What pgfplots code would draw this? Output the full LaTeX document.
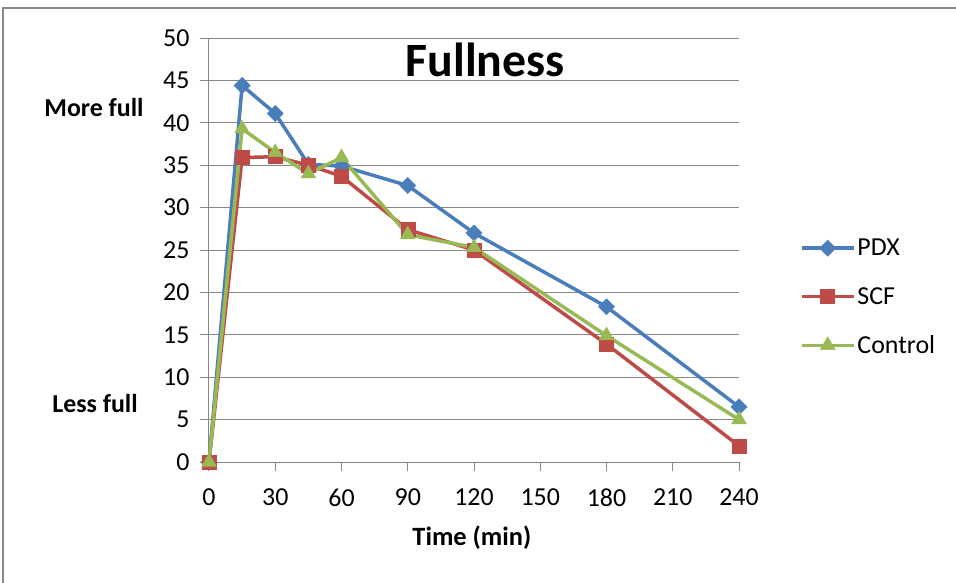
\documentclass[border=0pt]{standalone}
\usepackage{pgfplots}
\pgfplotsset{compat=1.18}
\usepackage{fontspec}
\setmainfont{Carlito}
\definecolor{pdx}{HTML}{4A7EBB}
\definecolor{scf}{HTML}{BE4B48}
\definecolor{ctl}{HTML}{98B954}
\definecolor{axgray}{HTML}{868686}
\begin{document}
\begin{tikzpicture}
\useasboundingbox (-209bp,-121bp) rectangle (747bp,462bp);
\draw[axgray, line width=2bp] (-206bp,-130bp) -- (-206bp,454bp) -- (760bp,454bp);
\begin{axis}[
  scale only axis, width=530bp, height=424bp,
  xmin=0, xmax=240, ymin=0, ymax=50,
  axis x line=bottom, axis y line=left,
  axis line style={axgray, line width=1bp, -},
  xtick={0,30,...,240}, ytick={0,5,...,50},
  ymajorgrids, grid style={axgray, line width=1bp},
  tick style={axgray, line width=1bp}, major tick length=9bp, tick align=outside,
  /pgf/number format/assume math mode=true,
  ticklabel style={font=\fontsize{26}{30}\selectfont, text=black},
  xticklabel style={yshift=-14bp},
  yticklabel style={xshift=-7bp},
  xlabel={\textbf{Time (min)}},
  xlabel style={font=\fontsize{26.5}{30}\selectfont, at={(axis description cs:0.496,-0.179)}, anchor=center},
  legend style={draw=none, fill=none, at={(1.109,0.389)}, anchor=west,
    font=\fontsize{26}{30}\selectfont, row sep=26bp, legend cell align=left},
  legend image code/.code={\draw[mark repeat=2,mark phase=2] plot coordinates {(0bp,0bp)(26bp,0bp)(52bp,0bp)};},
  clip=false,
]
\addplot[pdx, line width=3.5bp, mark=square*, mark size=5.7bp, mark options={solid, rotate=45, line width=0.5bp}] coordinates {
(0,0) (15,44.4) (30,41.1) (45,35.1) (60,34.9) (90,32.6) (120,27.0) (180,18.3) (240,6.5)};
\addlegendentry{PDX}
\addplot[scf, line width=3.5bp, mark=square*, mark size=7bp, mark options={solid, line width=0.5bp}] coordinates {
(0,0) (15,35.9) (30,36.0) (45,35.0) (60,33.7) (90,27.4) (120,25.0) (180,13.9) (240,1.9)};
\addlegendentry{SCF}
\addplot[ctl, line width=3.5bp, mark=triangle*, mark size=8.5bp, mark options={solid, line width=0.5bp}] coordinates {
(0,0) (15,39.3) (30,36.5) (45,34.0) (60,35.9) (90,26.8) (120,25.3) (180,14.9) (240,5.0)};
\addlegendentry{Control}
\node[font=\fontsize{48}{52}\selectfont\bfseries] at (rel axis cs:0.521,0.948) {Fullness};
\node[font=\fontsize{26}{30}\selectfont\bfseries] at (rel axis cs:-0.217,0.835) {More full};
\node[font=\fontsize{26}{30}\selectfont\bfseries] at (rel axis cs:-0.215,0.139) {Less full};
\end{axis}
\end{tikzpicture}
\end{document}
